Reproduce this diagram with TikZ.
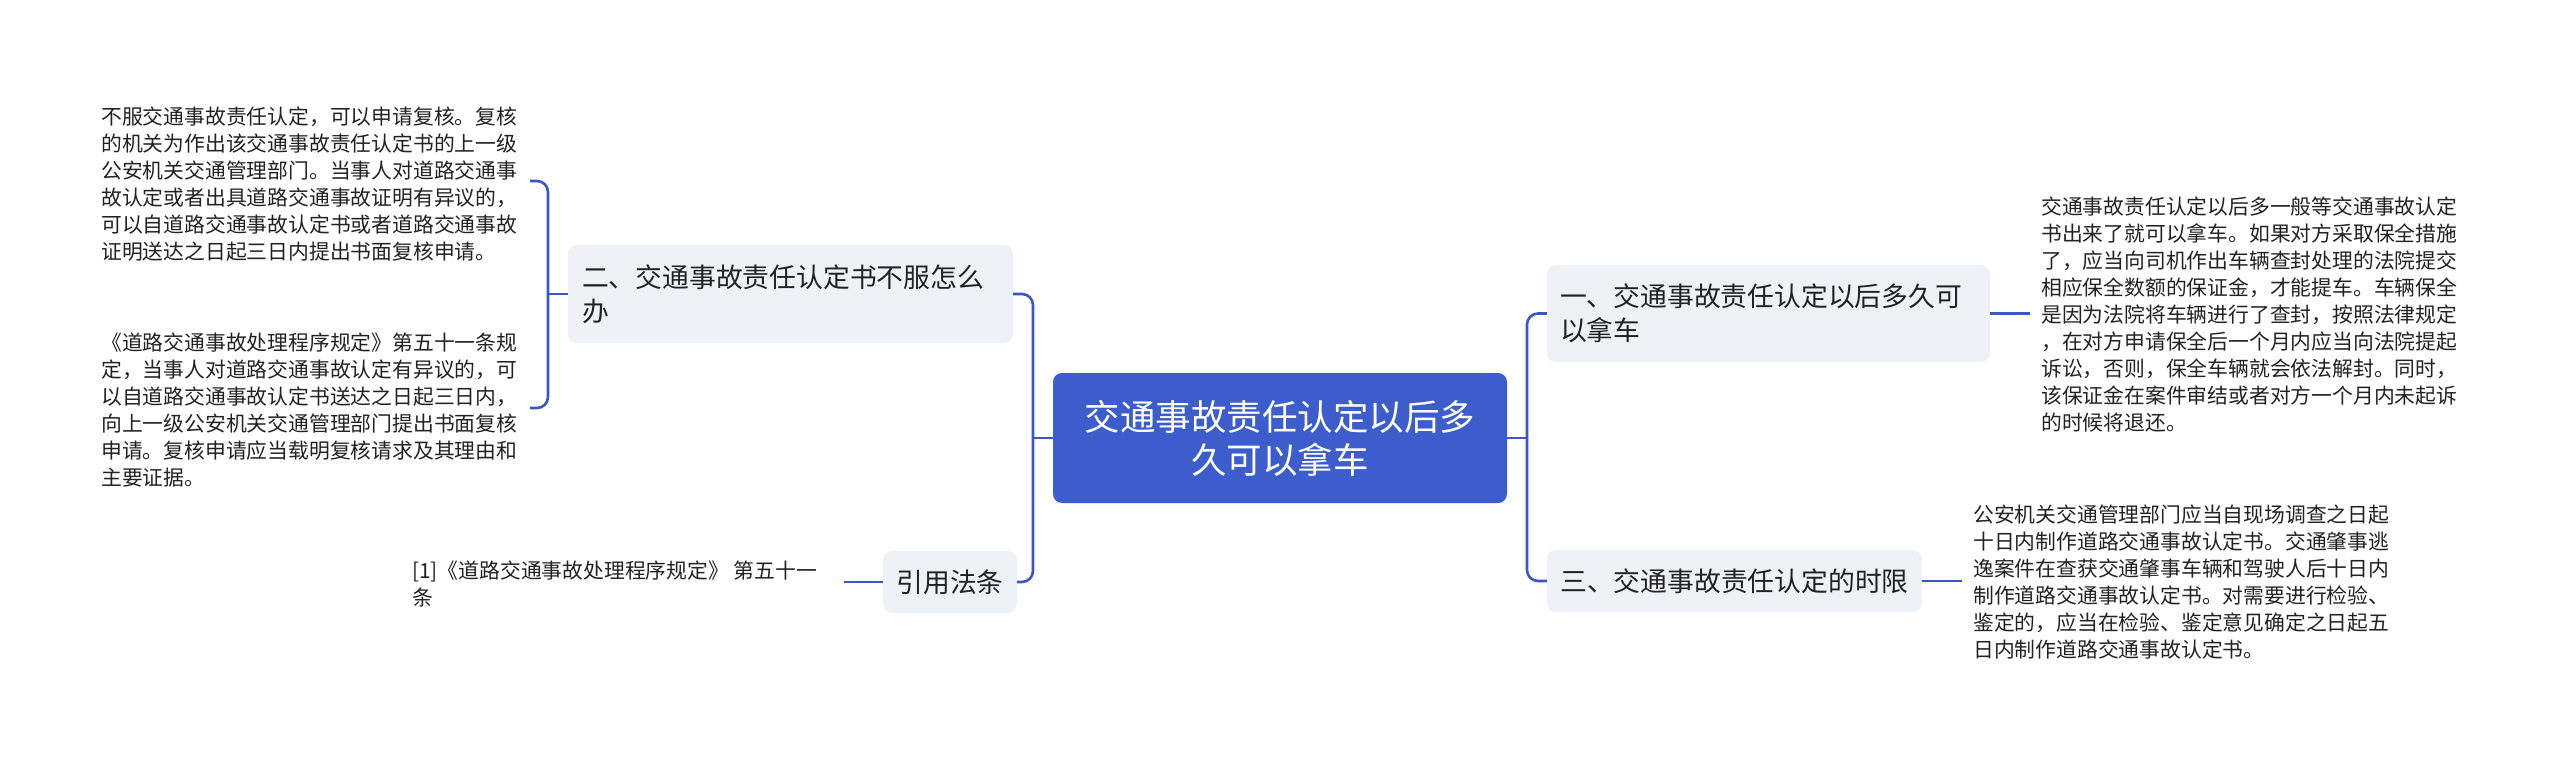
\documentclass[tikz,border=0pt]{standalone}
\usepackage{fontspec}
\setmainfont{Noto Sans CJK SC}
\definecolor{rootblue}{HTML}{3D5DCC}
\definecolor{connblue}{HTML}{3A57C4}
\definecolor{boxgray}{HTML}{EEF1F5}
\definecolor{txt}{HTML}{222222}
\tikzset{
  rootbox/.style={fill=rootblue, text=white, rounded corners=9pt, inner sep=0pt, align=center,
    font=\fontsize{35.5}{43}\selectfont},
  topic/.style={fill=boxgray, text=txt, rounded corners=9pt, inner ysep=0pt,
    font=\fontsize{26.8}{34}\selectfont},
  leaf/.style={text=txt, inner sep=0pt, align=left, anchor=west,
    font=\fontsize{20.8}{27}\selectfont},
  conn/.style={draw=connblue, line width=2.6pt, rounded corners=11pt}
}
\begin{document}
\begin{tikzpicture}[x=1pt,y=-1pt]
\useasboundingbox (0,0) rectangle (2560,762);
\fill[white] (0,0) rectangle (2560,762);

% root
\node[rootbox, minimum width=454pt, minimum height=130pt] (root) at (1280,438)
  {交通事故责任认定以后多\\久可以拿车};

% topics
\node[topic, text width=417pt, inner xsep=14pt, minimum height=98pt, align=left] (b2) at (790.5,294)
  {二、交通事故责任认定书不服怎么\\办};
\node[topic, minimum width=134pt, minimum height=62pt] (cite) at (950,582) {引用法条};
\node[topic, text width=417pt, inner xsep=13pt, minimum height=97pt, align=left] (b1) at (1768.5,313.5)
  {一、交通事故责任认定以后多久可\\以拿车};
\node[topic, minimum width=375pt, minimum height=62pt] (b3) at (1734.5,581) {三、交通事故责任认定的时限};

% leaves
\node[leaf] (L1) at (101,184) {不服交通事故责任认定，可以申请复核。复核\\的机关为作出该交通事故责任认定书的上一级\\公安机关交通管理部门。当事人对道路交通事\\故认定或者出具道路交通事故证明有异议的，\\可以自道路交通事故认定书或者道路交通事故\\证明送达之日起三日内提出书面复核申请。};
\node[leaf] (L2) at (101,410) {《道路交通事故处理程序规定》第五十一条规\\定，当事人对道路交通事故认定有异议的，可\\以自道路交通事故认定书送达之日起三日内，\\向上一级公安机关交通管理部门提出书面复核\\申请。复核申请应当载明复核请求及其理由和\\主要证据。};
\node[leaf] (L3) at (412,584) {[1]《道路交通事故处理程序规定》 第五十一\\条};
\node[leaf] (R1) at (2041,315) {交通事故责任认定以后多一般等交通事故认定\\书出来了就可以拿车。如果对方采取保全措施\\了，应当向司机作出车辆查封处理的法院提交\\相应保全数额的保证金，才能提车。车辆保全\\是因为法院将车辆进行了查封，按照法律规定\\，在对方申请保全后一个月内应当向法院提起\\诉讼，否则，保全车辆就会依法解封。同时，\\该保证金在案件审结或者对方一个月内未起诉\\的时候将退还。};
\node[leaf] (R2) at (1973,582) {公安机关交通管理部门应当自现场调查之日起\\十日内制作道路交通事故认定书。交通肇事逃\\逸案件在查获交通肇事车辆和驾驶人后十日内\\制作道路交通事故认定书。对需要进行检验、\\鉴定的，应当在检验、鉴定意见确定之日起五\\日内制作道路交通事故认定书。};

% junction coordinates
\coordinate (busL) at (1033,438);
\coordinate (busR) at (1527,438);
\coordinate (busB) at (548,294);
\coordinate (e1) at (530,181);
\coordinate (e2) at (530,408);
\coordinate (e3) at (844,582);
\coordinate (e4) at (2030,313.5);
\coordinate (e5) at (1962,581);

% connectors
\draw[conn] (root.west) -- (busL);
\draw[conn] (b2.east) -| (busL) |- (cite.east);
\draw[conn] (root.east) -- (busR);
\draw[conn] (b1.west) -| (busR) |- (b3.west);
\draw[conn] (b2.west) -- (busB);
\draw[conn] (e1) -| (busB) |- (e2);
\draw[conn] (cite.west) -- (e3);
\draw[conn] (b1.east) -- (e4);
\draw[conn] (b3.east) -- (e5);
\end{tikzpicture}
\end{document}
